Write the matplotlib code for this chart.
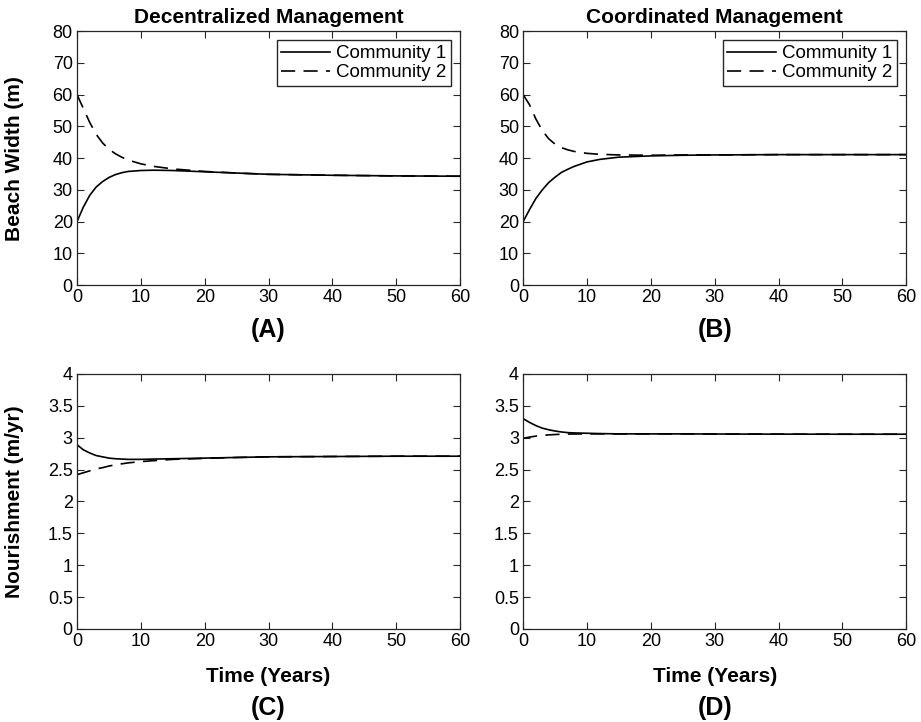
import numpy as np
import matplotlib
matplotlib.use("Agg")
import matplotlib.pyplot as plt
from matplotlib.ticker import FormatStrFormatter, MultipleLocator

plt.rcParams['font.family'] = ['Liberation Sans', 'DejaVu Sans']

# time axis (years)
years = [0, 1, 2, 3, 4, 5, 6, 7, 8, 10, 12, 15, 20, 25, 30, 40, 50, 60]

# beach width (m), decentralized
width_dec_c1 = [20.0, 24.6, 28.3, 30.9, 32.6, 33.9, 34.8, 35.4, 35.8, 36.1, 36.2, 36.1, 35.7, 35.3, 34.9, 34.6, 34.4, 34.3]
width_dec_c2 = [60.0, 55.6, 51.2, 47.5, 44.8, 42.8, 41.4, 40.3, 39.4, 38.2, 37.4, 36.6, 35.8, 35.3, 34.9, 34.6, 34.4, 34.3]

# beach width (m), coordinated
width_coo_c1 = [20.0, 23.8, 27.3, 30.0, 32.3, 34.0, 35.5, 36.5, 37.4, 38.8, 39.6, 40.3, 40.7, 40.9, 41.0, 41.1, 41.1, 41.1]
width_coo_c2 = [60.0, 56.8, 52.3, 48.7, 46.1, 44.4, 43.3, 42.6, 42.1, 41.5, 41.2, 41.0, 40.9, 41.0, 41.0, 41.1, 41.1, 41.1]

# nourishment (m/yr), decentralized
nour_dec_c1 = [2.89, 2.81, 2.76, 2.72, 2.70, 2.68, 2.67, 2.665, 2.66, 2.66, 2.665, 2.67, 2.68, 2.69, 2.70, 2.705, 2.71, 2.71]
nour_dec_c2 = [2.42, 2.45, 2.48, 2.51, 2.53, 2.555, 2.575, 2.59, 2.605, 2.625, 2.64, 2.66, 2.675, 2.69, 2.70, 2.705, 2.71, 2.71]

# nourishment (m/yr), coordinated
nour_coo_c1 = [3.30, 3.24, 3.19, 3.15, 3.125, 3.105, 3.09, 3.08, 3.075, 3.07, 3.065, 3.06, 3.06, 3.06, 3.058, 3.056, 3.055, 3.055]
nour_coo_c2 = [2.99, 3.01, 3.025, 3.035, 3.045, 3.05, 3.055, 3.057, 3.058, 3.06, 3.06, 3.06, 3.06, 3.06, 3.058, 3.056, 3.055, 3.055]

titles = ["Decentralized Management", "Coordinated Management"]
panel_tags = ["(A)", "(B)", "(C)", "(D)"]
legend_labels = ["Community 1", "Community 2"]

axcol = (0.15, 0.15, 0.15)
dash = (8.5, 5)

fig = plt.figure(figsize=(9.21, 7.22), dpi=100)
lefts = [0.0836, 0.568]
w = 0.416
ax_a = fig.add_axes([lefts[0], 0.605, w, 0.352])
ax_b = fig.add_axes([lefts[1], 0.605, w, 0.352])
ax_c = fig.add_axes([lefts[0], 0.129, w, 0.353])
ax_d = fig.add_axes([lefts[1], 0.129, w, 0.353])

series = [
    (ax_a, width_dec_c1, width_dec_c2),
    (ax_b, width_coo_c1, width_coo_c2),
    (ax_c, nour_dec_c1, nour_dec_c2),
    (ax_d, nour_coo_c1, nour_coo_c2),
]

for i, (ax, c1, c2) in enumerate(series):
    ax.plot(years, c1, color='black', lw=1.2, label=legend_labels[0])
    ax.plot(years, c2, color='black', lw=1.2, dashes=dash, label=legend_labels[1])
    ax.set_xlim(0, 60)
    ax.xaxis.set_major_locator(MultipleLocator(10))
    if i < 2:
        ax.set_ylim(0, 80)
        ax.yaxis.set_major_locator(MultipleLocator(10))
        ax.set_title(titles[i], fontsize=15, fontweight='bold', pad=6)
        ax.legend(loc='upper right', fontsize=13.5, fancybox=False, edgecolor=axcol,
                  framealpha=1, borderpad=0.25, handlelength=2.6, handletextpad=0.3,
                  labelspacing=0.1, borderaxespad=0.5)
    else:
        ax.set_ylim(0, 4)
        ax.yaxis.set_major_locator(MultipleLocator(0.5))
        ax.yaxis.set_major_formatter(FormatStrFormatter('%g'))
        ax.set_xlabel("Time (Years)", fontsize=15, fontweight='bold', labelpad=12)
    ax.tick_params(direction='in', top=True, right=True, length=5, width=0.8,
                   color=axcol, labelsize=13, labelcolor='black', pad=3)
    for s in ax.spines.values():
        s.set_color(axcol)
        s.set_linewidth(0.9)
    x0 = ax.get_position().x0 + w / 2
    ty = 1 - 330 / 722 if i < 2 else 1 - 708 / 722
    fig.text(x0, ty, panel_tags[i], ha='center', va='center', fontsize=18, fontweight='bold')

ax_a.set_ylabel("Beach Width (m)", fontsize=15, fontweight='bold')
ax_a.yaxis.set_label_coords(-0.138, 0.5)
ax_c.set_ylabel("Nourishment (m/yr)", fontsize=15, fontweight='bold')
ax_c.yaxis.set_label_coords(-0.138, 0.5)

fig.savefig("out.png", dpi=100)
